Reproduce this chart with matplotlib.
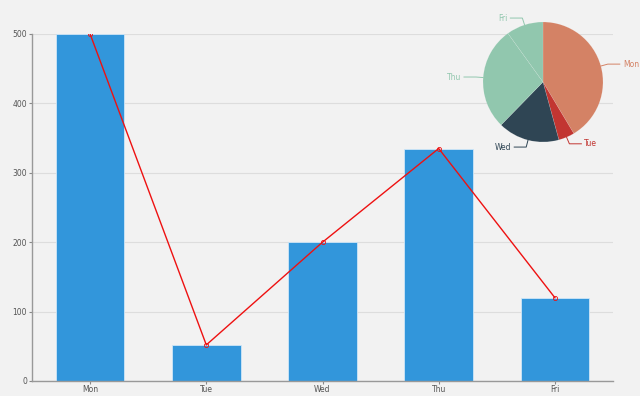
import numpy as np
import matplotlib
matplotlib.use('Agg')
import matplotlib.pyplot as plt

# дані
days = ['Mon', 'Tue', 'Wed', 'Thu', 'Fri']
values = [500, 52, 200, 335, 120]
pie_colors = ['#d48265', '#c23531', '#2f4554', '#91c7ae', '#91c7ae']
y_ticks = [0, 100, 200, 300, 400, 500]

bg = '#f2f2f2'
fig = plt.figure(figsize=(6.4, 3.96), dpi=100, facecolor=bg)

# основний графік: стовпці + лінія
ax = fig.add_axes([32 / 640, 15 / 396, 581 / 640, 347 / 396], facecolor=bg)
x = np.arange(len(days))
ax.bar(x, values, width=0.59, color='#3296db', edgecolor='#cfe6f7', linewidth=0.6, zorder=2)
ax.plot(x, values, color='#ee1111', linewidth=1, marker='o', markersize=3,
        markerfacecolor='none', markeredgewidth=0.6, zorder=3)
ax.set_xlim(-0.5, len(days) - 0.5)
ax.set_ylim(0, 500)
ax.set_xticks(x)
ax.set_xticklabels(days)
ax.set_yticks(y_ticks)
ax.tick_params(axis='both', labelsize=5.5, colors='#888888', labelcolor='#555555', length=2, width=0.8)
ax.tick_params(axis='x', pad=0.8)
ax.tick_params(axis='y', pad=1.5)
ax.grid(axis='y', color='#dddddd', linewidth=0.8, zorder=0)
for side in ['top', 'right']:
    ax.spines[side].set_visible(False)
for side in ['left', 'bottom']:
    ax.spines[side].set_color('#999999')
    ax.spines[side].set_linewidth(1)

# кругова діаграма
pax = fig.add_axes([483 / 640, (396 - 142) / 396, 120 / 640, 120 / 396])
pax.set_facecolor('none')
wedges, _ = pax.pie(values, colors=pie_colors, startangle=90, counterclock=False,
                    radius=1, wedgeprops=dict(linewidth=0.3, edgecolor='#ffffff40'))
pax.set_xlim(-1, 1)
pax.set_ylim(-1, 1)
pax.set_aspect('equal')
pax.axis('off')

for w, day, col in zip(wedges, days, pie_colors):
    ang = np.deg2rad((w.theta1 + w.theta2) / 2)
    x0, y0 = np.cos(ang), np.sin(ang)
    x1, y1 = 1.12 * x0, 1.12 * y0
    sgn = 1 if x0 >= 0 else -1
    x2 = x1 + 0.2 * sgn
    pax.plot([x0, x1, x2], [y0, y1, y1], color=col, linewidth=0.7, clip_on=False)
    pax.text(x2 + 0.05 * sgn, y1, day, color=col, fontsize=5.5,
             ha='left' if sgn > 0 else 'right', va='center', clip_on=False)

fig.savefig('out.png', dpi=100, facecolor=bg)
